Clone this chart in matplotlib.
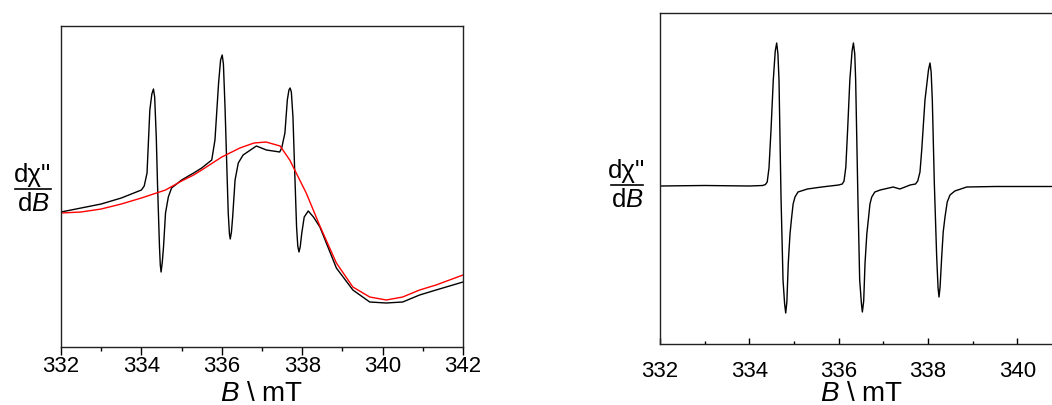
import matplotlib
matplotlib.use("Agg")
import matplotlib.pyplot as plt
from matplotlib.lines import Line2D

plt.rcParams["font.family"] = ["Liberation Sans", "DejaVu Sans"]
plt.rcParams["mathtext.fontset"] = "custom"
plt.rcParams["mathtext.rm"] = "Liberation Sans"
plt.rcParams["mathtext.it"] = "Liberation Sans:italic"

# left panel: black = sample with radical lines, red = reference (a.u.)
B_black = [332.0, 332.5, 333.0, 333.5, 334.0, 334.07, 334.14, 334.21, 334.26, 334.30,
           334.33, 334.37, 334.40, 334.45, 334.47, 334.49, 334.52, 334.55, 334.60, 334.67,
           334.75, 335.0, 335.3, 335.5, 335.75, 335.83, 335.92, 335.97, 336.01, 336.04,
           336.08, 336.12, 336.16, 336.19, 336.21, 336.24, 336.27, 336.33, 336.41, 336.53,
           336.86, 337.11, 337.44, 337.49, 337.57, 337.63, 337.67, 337.70, 337.73, 337.77,
           337.81, 337.86, 337.89, 337.92, 337.95, 337.99, 338.05, 338.15, 338.28, 338.44,
           338.85, 339.26, 339.68, 340.09, 340.5, 340.92, 341.33, 342.0]
I_black = [135, 139, 143, 149, 157, 161, 174, 237, 253, 258,
           250, 210, 164, 100, 82, 75, 85, 100, 134, 150,
           159, 167, 174, 179, 187, 207, 264, 287, 292, 283,
           240, 187, 134, 113, 108, 115, 130, 167, 184, 192,
           201, 197, 195, 199, 214, 247, 257, 259, 255, 230,
           180, 120, 101, 95, 100, 114, 130, 136, 130, 120,
           79, 57, 45, 44, 45, 52, 57, 65]

B_red = [332.0, 332.5, 333.0, 333.5, 334.0, 334.6, 335.0, 335.3, 335.5, 336.0,
         336.45, 336.8, 337.1, 337.45, 337.69, 338.1, 338.44, 338.85, 339.26, 339.68,
         340.09, 340.5, 340.92, 341.33, 342.0]
I_red = [134, 135, 138, 143, 149, 157, 166, 172, 177, 190,
         199, 204, 205, 201, 187, 154, 121, 84, 60, 50,
         47, 50, 57, 62, 72]

# right panel: three-line spectrum (a.u.)
B_right = [332.0, 333.0, 334.0, 334.3, 334.36, 334.40, 334.44, 334.485, 334.536, 334.58,
           334.612, 334.64, 334.664, 334.709, 334.754, 334.79, 334.814, 334.84, 334.872, 334.91,
           334.948, 334.98, 335.022, 335.089, 335.3, 335.62, 336.0, 336.08, 336.12, 336.16,
           336.20, 336.25, 336.30, 336.33, 336.36, 336.38, 336.43, 336.47, 336.51, 336.53,
           336.56, 336.59, 336.63, 336.67, 336.70, 336.74, 336.81, 336.93, 337.22, 337.37,
           337.6, 337.72, 337.77, 337.82, 337.859, 337.932, 338.01, 338.044, 338.07, 338.096,
           338.141, 338.194, 338.225, 338.246, 338.27, 338.306, 338.34, 338.380, 338.43, 338.492,
           338.60, 338.866, 339.5, 340.5, 342.0]
I_right = [158, 158.5, 158, 158.5, 159.5, 162, 176, 214, 264, 293,
           301, 290, 264, 147, 64, 40, 31, 42, 81, 110,
           127, 140, 147, 152, 155, 157, 159, 160, 163, 177,
           214, 264, 293, 301, 290, 264, 147, 64, 40, 32,
           43, 81, 110, 127, 140, 147, 152, 154, 157, 155,
           159, 160, 163, 172, 194, 244, 274, 281, 272, 244,
           161, 87, 56, 47, 57, 87, 112, 127, 142, 149,
           153, 157, 157.5, 157.5, 157.5]

xticks = [332, 334, 336, 338, 340, 342]
xminor = [333, 335, 337, 339, 341]

fig = plt.figure(figsize=(10.52, 4.05), dpi=100)

ax1 = fig.add_axes([61 / 1052, 1 - 347 / 405, 402 / 1052, 321 / 405])
ax1.plot(B_black, I_black, color="black", lw=1.0)
ax1.plot(B_red, I_red, color="red", lw=1.0)
ax1.set_xlim(332, 342)
ax1.set_ylim(0, 321)
ax1.set_xticks(xticks)
ax1.set_xticks(xminor, minor=True)
ax1.set_yticks([])
ax1.tick_params(axis="x", which="major", direction="out", length=6, width=1,
                labelsize=16, pad=0.5)
ax1.tick_params(axis="x", which="minor", direction="out", length=3, width=1)
ax1.set_xlabel(r"$B$ \ mT", fontsize=20)
ax1.xaxis.set_label_coords(0.5, -0.106)

# right panel runs past the figure edge, as in the original
ax2 = fig.add_axes([660 / 1052, 1 - 344 / 405, 446.7 / 1052, 331.3 / 405])
ax2.plot(B_right, I_right, color="black", lw=1.0)
ax2.set_xlim(332, 342)
ax2.set_ylim(0, 331.3)
ax2.set_xticks(xticks[:-1])
ax2.set_xticks(xminor, minor=True)
ax2.set_yticks([])
ax2.tick_params(axis="x", which="major", direction="in", length=4, width=1,
                labelsize=16, pad=12)
ax2.tick_params(axis="x", which="minor", direction="in", length=2.5, width=1)
ax2.set_xlabel(r"$B$ \ mT", fontsize=20)
ax2.xaxis.set_label_coords(0.452, -0.112)

for ax in (ax1, ax2):
    for s in ax.spines.values():
        s.set_linewidth(1.0)
        s.set_color("#222222")


def frac_label(xc, y_bar, half_w):
    fig.text(xc / 1052, 1 - (y_bar - 2) / 405, "dχ''", fontsize=18.5,
             ha="center", va="bottom")
    fig.text(xc / 1052, 1 - (y_bar + 3) / 405, r"d$B$", fontsize=18.5,
             ha="center", va="top")
    fig.add_artist(Line2D([(xc - half_w) / 1052, (xc + half_w) / 1052],
                          [1 - y_bar / 405, 1 - y_bar / 405],
                          color="black", lw=1.2, transform=fig.transFigure))


frac_label(33, 189, 18)
frac_label(627, 185, 16)

fig.savefig("out.png", dpi=100)
